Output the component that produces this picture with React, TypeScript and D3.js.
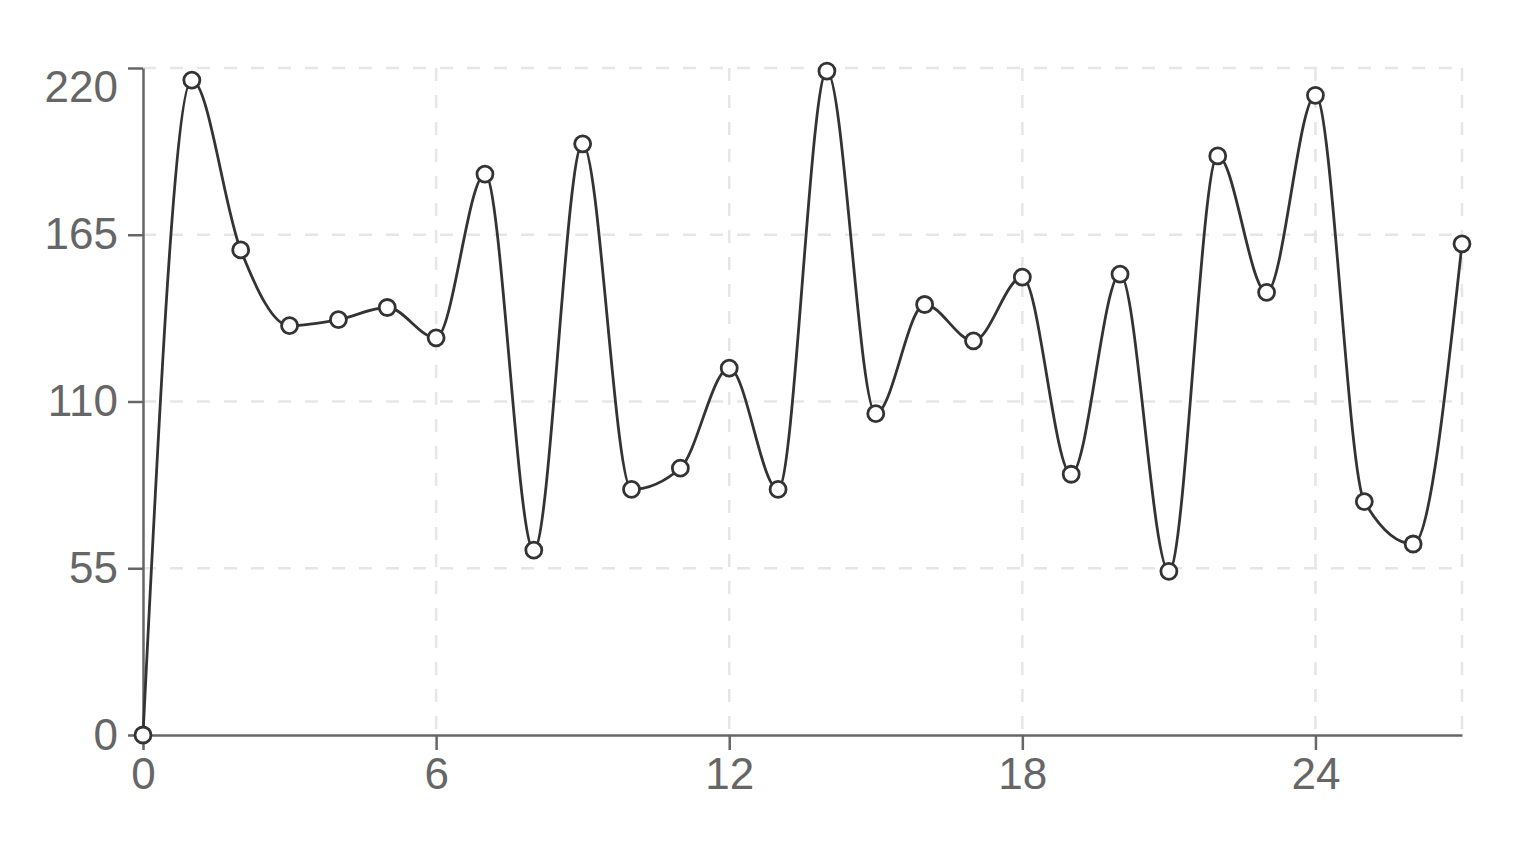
import React, { useEffect, useRef } from 'react';
import * as d3 from 'd3';

const xValues = [
  0, 1, 2, 3, 4, 5, 6, 7, 8, 9, 10, 11, 12, 13, 14, 15, 16, 17, 18, 19, 20, 21, 22, 23, 24, 25, 26, 27,
];
const yValues = [
  0, 216, 160, 135, 137, 141, 131, 185, 61, 195, 81, 88, 121, 81, 219, 106, 142, 130, 151, 86, 152, 54,
  191, 146, 211, 77, 63, 162,
];
const xTicks = [0, 6, 12, 18, 24];
const yTicks = [0, 55, 110, 165, 220];
const xGrid = [0, 6, 12, 18, 24, 27];

const WIDTH = 1536;
const HEIGHT = 843;

const App: React.FC = () => {
  const svgRef = useRef<SVGSVGElement>(null);

  useEffect(() => {
    if (!svgRef.current) return;
    d3.select(svgRef.current).selectAll('*').remove();

    const margin = { top: 68, right: 74, bottom: 108, left: 143 };
    const innerW = WIDTH - margin.left - margin.right;
    const innerH = HEIGHT - margin.top - margin.bottom;

    const svg = d3
      .select(svgRef.current)
      .attr('width', WIDTH)
      .attr('height', HEIGHT)
      .append('g')
      .attr('transform', `translate(${margin.left},${margin.top})`);

    const x = d3.scaleLinear().domain([0, 27]).range([0, innerW]);
    const y = d3.scaleLinear().domain([0, 220]).range([innerH, 0]);

    // grid
    const grid = svg.append('g').attr('stroke', '#e6e6e6').attr('stroke-width', 2.5).attr('stroke-dasharray', '13 14');
    grid
      .selectAll('.h')
      .data(yTicks.filter((d) => d > 0))
      .enter()
      .append('line')
      .attr('x1', 0)
      .attr('x2', innerW)
      .attr('y1', (d) => y(d))
      .attr('y2', (d) => y(d));
    grid
      .selectAll('.v')
      .data(xGrid.filter((d) => d > 0))
      .enter()
      .append('line')
      .attr('x1', (d) => x(d))
      .attr('x2', (d) => x(d))
      .attr('y1', 0)
      .attr('y2', innerH);

    const styleAxis = (g: d3.Selection<SVGGElement, unknown, null, undefined>) => {
      g.selectAll('path').attr('stroke', '#666').attr('stroke-width', 2.5);
      g.selectAll('line').attr('stroke', '#666').attr('stroke-width', 2.5);
      g.selectAll('text')
        .attr('fill', '#666')
        .style('font-family', '"Liberation Sans", Arial, sans-serif')
        .style('font-size', '44px');
    };

    // x axis
    const xAxis = svg
      .append('g')
      .attr('transform', `translate(0,${innerH})`)
      .call(d3.axisBottom(x).tickValues(xTicks).tickSize(15).tickSizeOuter(0).tickPadding(8).tickFormat(d3.format('d')));
    styleAxis(xAxis);

    // y axis
    const yAxis = svg
      .append('g')
      .call(d3.axisLeft(y).tickValues(yTicks).tickSize(15).tickSizeOuter(0).tickPadding(10).tickFormat(d3.format('d')));
    styleAxis(yAxis);
    // top label sits lower so it stays inside the frame
    yAxis
      .selectAll<SVGTextElement, number>('text')
      .filter((d) => d === 220)
      .attr('dy', '0.75em');

    // line
    const points = xValues.map((xv, i) => ({ x: xv, y: yValues[i] }));
    const line = d3
      .line<{ x: number; y: number }>()
      .x((d) => x(d.x))
      .y((d) => y(d.y))
      .curve(d3.curveMonotoneX);

    svg
      .append('path')
      .datum(points)
      .attr('d', line)
      .attr('fill', 'none')
      .attr('stroke', '#333')
      .attr('stroke-width', 2.8);

    svg
      .selectAll('.dot')
      .data(points)
      .enter()
      .append('circle')
      .attr('cx', (d) => x(d.x))
      .attr('cy', (d) => y(d.y))
      .attr('r', 8)
      .attr('fill', '#fff')
      .attr('stroke', '#333')
      .attr('stroke-width', 2.8);
  }, []);

  return (
    <div style={{ position: 'absolute', left: 0, top: 0, width: WIDTH, height: HEIGHT, background: '#fff' }}>
      <svg ref={svgRef} style={{ display: 'block' }}></svg>
    </div>
  );
};

export default App;
